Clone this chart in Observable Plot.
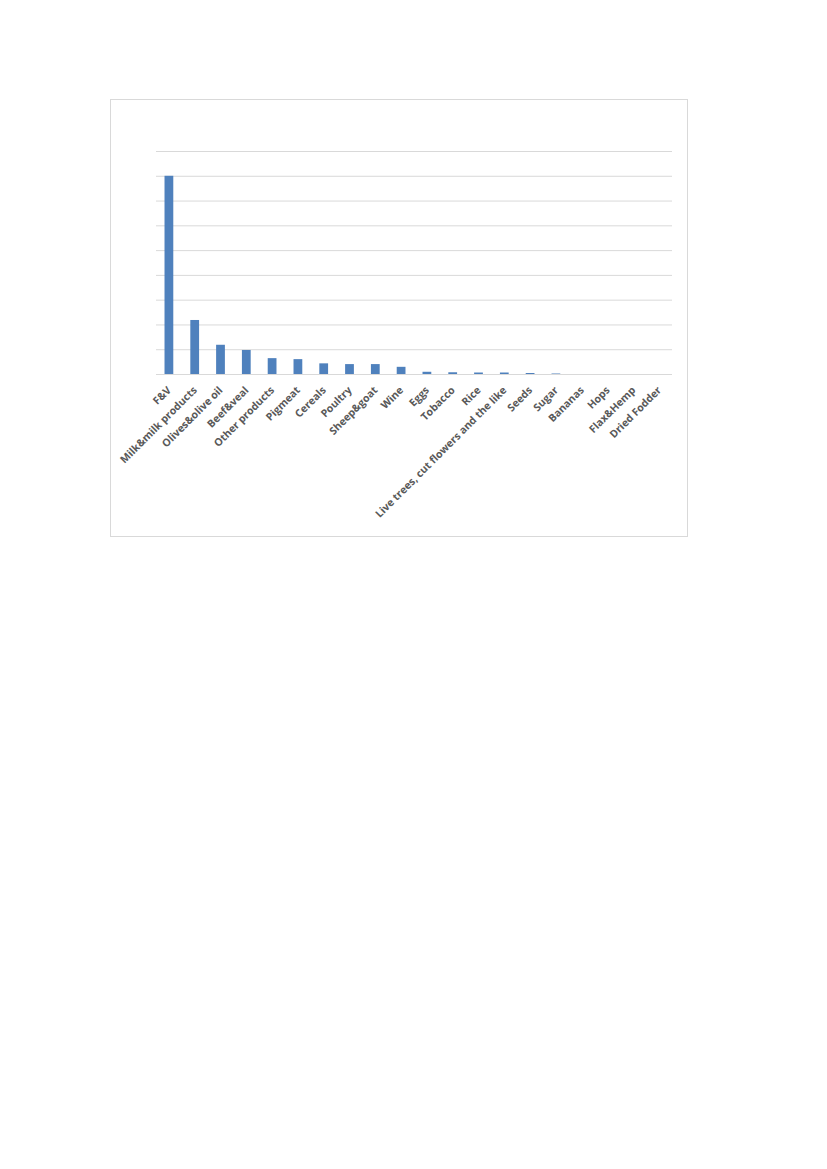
<!DOCTYPE html>
<html>
<head>
<meta charset="utf-8">
<script src="https://cdn.jsdelivr.net/npm/d3@7"></script>
<script src="https://cdn.jsdelivr.net/npm/@observablehq/plot@0.6"></script>
<style>
  html, body { margin: 0; padding: 0; background: #fff; }
  body { width: 827px; height: 1169px; position: relative; }
  #frame { position: absolute; left: 110px; top: 99px; width: 576px; height: 436px; border: 1px solid #d9d9d9; }
  #frame svg { display: block; }
</style>
</head>
<body>
<div id="frame"></div>
<script>
const categories = ["F&V", "Milk&milk products", "Olives&olive oil", "Beef&veal", "Other products", "Pigmeat", "Cereals", "Poultry", "Sheep&goat", "Wine", "Eggs", "Tobacco", "Rice", "Live trees, cut flowers and the like", "Seeds", "Sugar", "Bananas", "Hops", "Flax&Hemp", "Dried Fodder"];
const values = [80, 21.8, 11.8, 9.7, 6.4, 6.0, 4.3, 4.0, 4.0, 2.9, 0.9, 0.7, 0.6, 0.6, 0.4, 0.2, 0, 0, 0, 0];
const gridTicks = [0, 10, 20, 30, 40, 50, 60, 70, 80, 90];

const data = categories.map((c, i) => ({category: c, value: values[i]}));

const chart = Plot.plot({
  width: 576,
  height: 436,
  marginLeft: 45,
  marginRight: 15,
  marginTop: 51,
  marginBottom: 162,
  style: {fontFamily: "'Open Sans', 'DejaVu Sans', sans-serif", fontSize: "10.5px", color: "#595959", background: "#fff"},
  x: {domain: categories, paddingInner: 0.66, paddingOuter: 0.33, round: false, label: null},
  y: {domain: [0, 90], ticks: gridTicks, label: null, axis: null},
  marks: [
    Plot.gridY(gridTicks, {stroke: "#d9d9d9", strokeOpacity: 1, strokeWidth: 1}),
    Plot.barY(data, {x: "category", y: "value", fill: "#4f81bd"}),
    Plot.axisX({tickRotate: -45, tickSize: 0, tickPadding: 14, fontWeight: "bold", fill: "#595959", label: null})
  ]
});
document.getElementById("frame").appendChild(chart);
</script>
</body>
</html>
